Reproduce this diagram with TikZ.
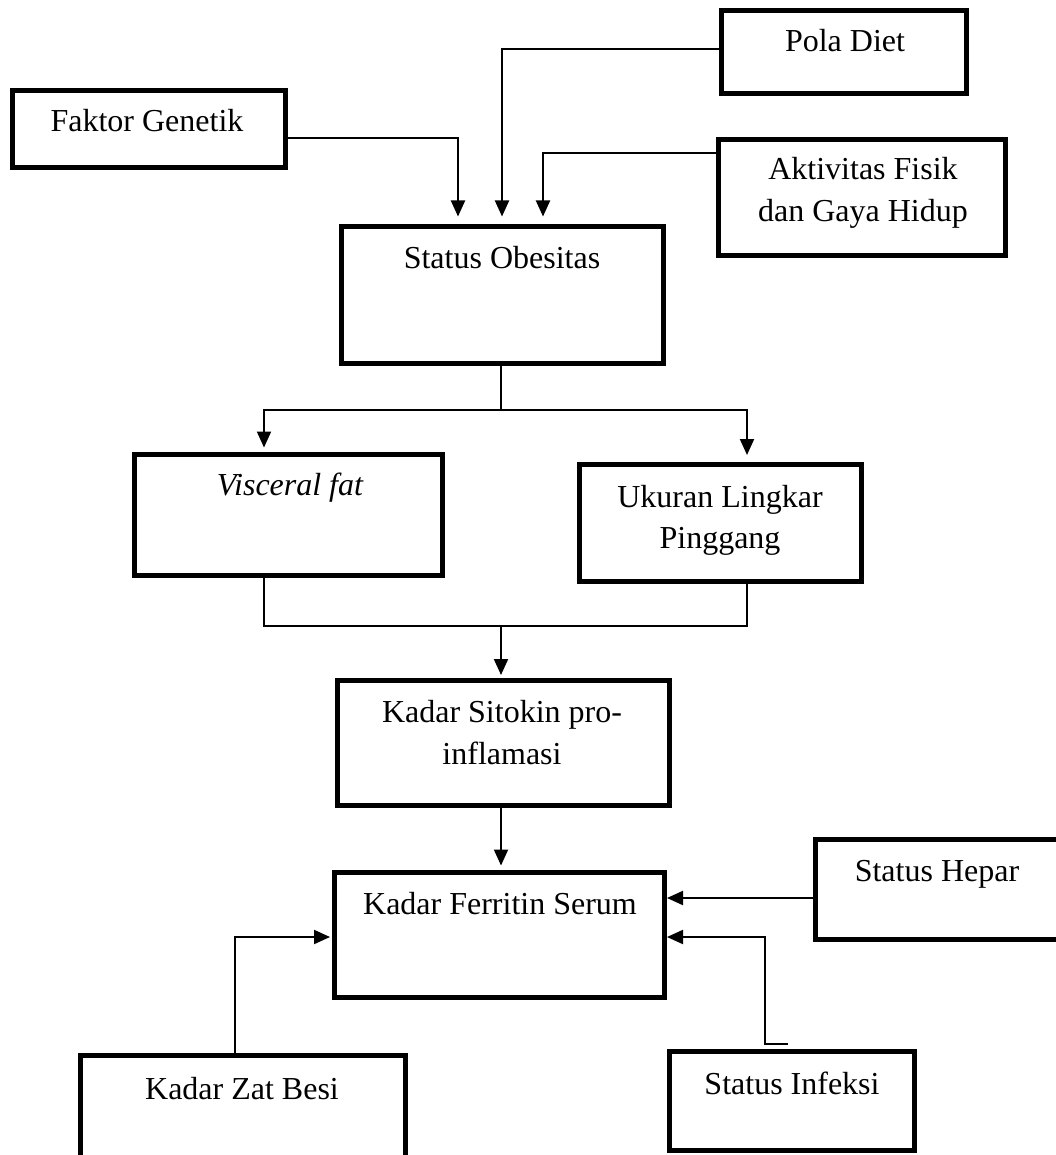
\documentclass[tikz,border=0pt]{standalone}
\usepackage{fontspec}
\setmainfont{Liberation Serif}
\usetikzlibrary{arrows.meta}
\begin{document}
\begin{tikzpicture}[x=1pt,y=-1pt,
  box/.style={draw=black, line width=5pt, inner sep=0pt, fill=none},
  lbl/.style={anchor=base, inner sep=0pt, font=\fontsize{32}{42}\selectfont, align=center},
  conn/.style={draw=black, line width=2pt},
  thinconn/.style={draw=black, line width=1.5pt},
  arr/.style={conn, -{Triangle[length=16pt,width=14pt]}}]
\useasboundingbox (0,0) rectangle (1056,1155);

% boxes
\node[box, minimum width=245pt, minimum height=83pt]  (pola) at (844,52) {};
\node[box, minimum width=273pt, minimum height=77pt]  (fg)   at (149,129) {};
\node[box, minimum width=287pt, minimum height=116pt] (akt)  at (862,197.5) {};
\node[box, minimum width=322pt, minimum height=137pt] (obs)  at (502.5,295) {};
\node[box, minimum width=308pt, minimum height=121pt] (vis)  at (288.5,515) {};
\node[box, minimum width=282pt, minimum height=117pt] (uk)   at (720.5,523) {};
\node[box, minimum width=332pt, minimum height=125pt] (sit)  at (503.5,743) {};
\node[box, minimum width=330pt, minimum height=125pt] (fer)  at (499.5,935) {};
\node[box, minimum width=262pt, minimum height=100pt] (hep)  at (946.5,889.5) {};
\node[box, minimum width=325pt, minimum height=122pt] (besi) at (243,1116.5) {};
\node[box, minimum width=245pt, minimum height=99pt]  (inf)  at (792,1101) {};

% texts
\node[lbl] (tpola) at (845,52) {Pola Diet};
\node[lbl] (tfg)   at (147,132) {Faktor Genetik};
\node[lbl] (takt1) at (863,180) {Aktivitas Fisik};
\node[lbl] (takt2) at (863,222) {dan Gaya Hidup};
\node[lbl] (tobs)  at (502,269) {Status Obesitas};
\node[lbl] (tvis)  at (290,495) {\itshape Visceral fat};
\node[lbl] (tuk1)  at (720,507) {Ukuran Lingkar};
\node[lbl] (tuk2)  at (720,548) {Pinggang};
\node[lbl] (tsit1) at (502,722) {Kadar Sitokin pro-};
\node[lbl] (tsit2) at (502,764) {inflamasi};
\node[lbl] (tfer)  at (500,914) {Kadar Ferritin Serum};
\node[lbl] (thep)  at (937,881) {Status Hepar};
\node[lbl] (tbesi) at (242,1099) {Kadar Zat Besi};
\node[lbl] (tinf)  at (792,1094) {Status Infeksi};

% connectors into Status Obesitas
\draw[arr, shorten >=7.5pt] ([yshift=-9pt]fg.east) -| ([xshift=-44.5pt]obs.north);
\draw[arr, shorten >=7.5pt] ([yshift=3pt]pola.west) -| ([xshift=-0.5pt]obs.north);
\draw[arr, shorten >=7.5pt] ([yshift=44.5pt]akt.west) -| ([xshift=40.5pt]obs.north);

% split from Status Obesitas
\coordinate (split) at (501,410);
\draw[conn] (obs.south -| split) -- (split);
\draw[arr, shorten >=4.5pt] (split) -| ([xshift=-24.5pt]vis.north);
\draw[arr, shorten >=7pt] (split) -| ([xshift=26.5pt]uk.north);

% merge into Sitokin
\coordinate (merge) at (501,626);
\draw[thinconn] ([xshift=-24.5pt]vis.south) |- (merge);
\draw[thinconn] ([xshift=26.5pt,yshift=5pt]uk.south) |- (merge);
\draw[arr, shorten >=3pt] (merge) -- (merge |- sit.north);

% Sitokin to Ferritin
\draw[arr, shorten >=4.5pt] (sit.south -| merge) -- (merge |- fer.north);

% Hepar to Ferritin
\draw[arr] ([yshift=-8.5pt]hep.west) -- ([yshift=-8.5pt]hep.west -| fer.east);

% Infeksi to Ferritin
\draw[arr] ([xshift=-4pt,yshift=5.5pt]inf.north) -- ++(-23pt,0) |- ([yshift=-2pt]fer.east);

% Zat Besi to Ferritin
\draw[arr, shorten >=2pt] ([xshift=-8pt]besi.north) |- ([yshift=-2pt]fer.west);
\end{tikzpicture}
\end{document}
